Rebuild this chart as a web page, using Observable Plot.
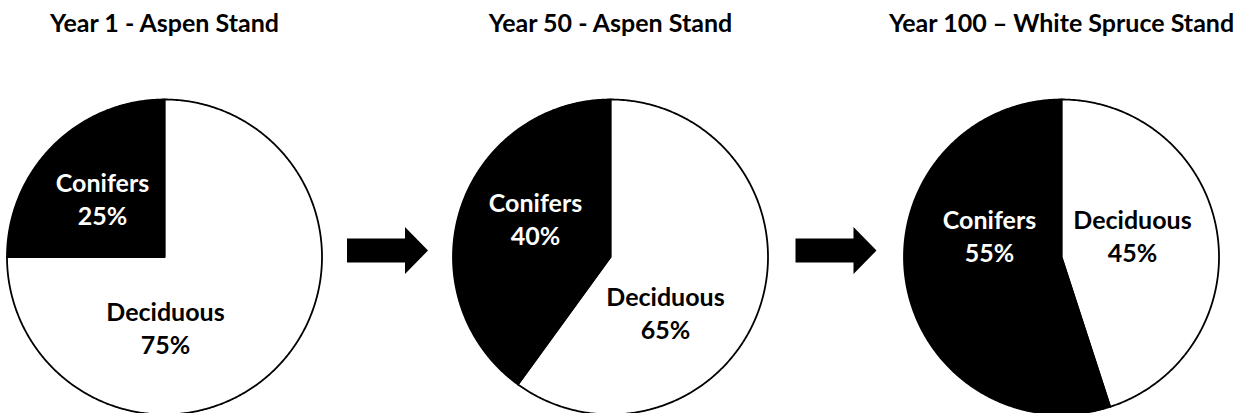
<!DOCTYPE html>
<html>
<head>
<meta charset="utf-8">
<script src="https://cdn.jsdelivr.net/npm/d3@7"></script>
<script src="https://cdn.jsdelivr.net/npm/@observablehq/plot@0.6"></script>
<style>
  html, body { margin: 0; padding: 0; background: #fff; }
  svg { display: block; }
</style>
</head>
<body>
<div id="chart"></div>
<script>
// ---------- data ----------
const stands = ["Year 1 - Aspen Stand", "Year 50 - Aspen Stand", "Year 100 \u2013 White Spruce Stand"];
const groups = ["Deciduous", "Conifers"];
// slice shares as drawn (clockwise from 12 o'clock: deciduous, then conifers)
const deciduous = [75, 60, 45];
const conifers = [25, 40, 55];
// percentages as printed on the slices
const deciduousLabels = ["75%", "65%", "45%"];
const coniferLabels = ["25%", "40%", "55%"];

// ---------- layout (pixels) ----------
const W = 1237, H = 413;
const R = 157.5;                    // pie radius
const pieCenters = [164, 610, 1061];
const centerY = 256.5;
const titleBaseline = 31;
const fontSize = 25;
const lineGap = 33;
// offsets of each label's last-line baseline from its pie centre (px, y up)
const coniferLabelOffset = [[-62, 32.5], [-75, 12.5], [-72, -4.5]];
const deciduousLabelOffset = [[1, -96.5], [55, -81.5], [71, -4.5]];
const arrowY = 6.5;

const ux = px => (px - pieCenters[0]) / R;   // pixel x -> scale units
const cx = i => ux(pieCenters[i]);

// ---------- slice outlines via d3.pie ----------
const pie = d3.pie().sort(null).value(d => d.value);
const slicePoints = [];
stands.forEach((stand, i) => {
  const parts = [
    {group: "Deciduous", value: deciduous[i]},
    {group: "Conifers", value: conifers[i]}
  ];
  pie(parts).forEach(a => {
    const id = `${i}-${a.data.group}`;
    const n = Math.max(2, Math.ceil((a.endAngle - a.startAngle) / (Math.PI / 360)));
    slicePoints.push({id, group: a.data.group, x: cx(i), y: 0});
    for (let k = 0; k <= n; k++) {
      const t = a.startAngle + (a.endAngle - a.startAngle) * k / n;
      slicePoints.push({id, group: a.data.group, x: cx(i) + Math.sin(t), y: Math.cos(t)});
    }
    slicePoints.push({id, group: a.data.group, x: cx(i), y: 0});
  });
});

// ---------- labels ----------
const labels = [];
stands.forEach((stand, i) => {
  labels.push({group: "Conifers", text: `Conifers\n${coniferLabels[i]}`,
    x: cx(i) + coniferLabelOffset[i][0] / R, y: coniferLabelOffset[i][1] / R});
  labels.push({group: "Deciduous", text: `Deciduous\n${deciduousLabels[i]}`,
    x: cx(i) + deciduousLabelOffset[i][0] / R, y: deciduousLabelOffset[i][1] / R});
});

// ---------- block arrow symbol ----------
const blockArrow = {
  draw(ctx, size) {
    const r = Math.sqrt(size / Math.PI);
    const shaft = 0.296 * r, head = 0.58 * r, neck = 0.432 * r;
    ctx.moveTo(-r, -shaft);
    ctx.lineTo(neck, -shaft);
    ctx.lineTo(neck, -head);
    ctx.lineTo(r, 0);
    ctx.lineTo(neck, head);
    ctx.lineTo(neck, shaft);
    ctx.lineTo(-r, shaft);
    ctx.closePath();
  }
};
const transitions = [0, 1];

const chart = Plot.plot({
  width: W,
  height: H,
  margin: 0,
  x: {domain: [ux(0), ux(W)], axis: null},
  y: {domain: [-(H - centerY) / R, centerY / R], axis: null},
  color: {type: "ordinal", domain: groups, range: ["white", "black"]},
  style: {fontFamily: "Lato, 'Open Sans', sans-serif", background: "white"},
  marks: [
    Plot.line(slicePoints, {
      x: "x", y: "y", z: "id", fill: "group",
      stroke: "black", strokeWidth: 1.8, strokeLinejoin: "round", curve: "linear"
    }),
    Plot.dot(transitions, {
      x: i => (cx(i) + cx(i + 1)) / 2, y: arrowY / R,
      r: 40.5, symbol: blockArrow, fill: "black", stroke: "none"
    }),
    Plot.text(stands, {
      x: (d, i) => cx(i), y: (centerY - titleBaseline) / R, text: d => d,
      lineAnchor: "bottom", textAnchor: "middle",
      fontSize, fontWeight: 700, fill: "black"
    }),
    Plot.text(labels, {
      x: "x", y: "y", text: "text",
      lineAnchor: "bottom", textAnchor: "middle", lineHeight: lineGap / fontSize,
      fontSize, fontWeight: 700,
      fill: d => d.group === "Conifers" ? "white" : "black"
    })
  ]
});
document.getElementById("chart").append(chart);
</script>
</body>
</html>
